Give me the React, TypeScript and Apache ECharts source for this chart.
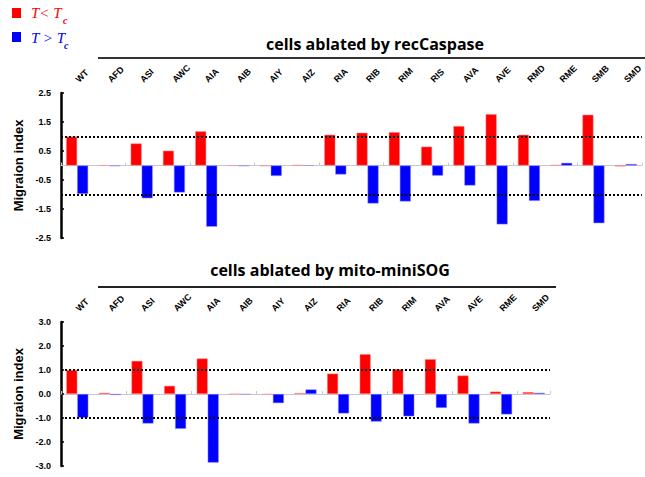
import React, { useEffect, useRef } from "react";
import * as echarts from "echarts";

const topCategories = ["WT", "AFD", "ASI", "AWC", "AIA", "AIB", "AIY", "AIZ", "RIA", "RIB", "RIM", "RIS", "AVA", "AVE", "RMD", "RME", "SMB", "SMD"];
const topBelow = [1.0, 0.0, 0.76, 0.51, 1.18, 0.0, -0.02, 0.02, 1.06, 1.13, 1.15, 0.65, 1.36, 1.77, 1.06, 0.02, 1.75, -0.03];
const topAbove = [-0.98, -0.02, -1.13, -0.93, -2.11, -0.02, -0.36, 0.0, -0.31, -1.31, -1.24, -0.35, -0.69, -2.03, -1.22, 0.09, -1.99, 0.05];

const bottomCategories = ["WT", "AFD", "ASI", "AWC", "AIA", "AIB", "AIY", "AIZ", "RIA", "RIB", "RIM", "AVA", "AVE", "RME", "SMD"];
const bottomBelow = [1.0, 0.05, 1.38, 0.34, 1.48, 0.0, -0.02, 0.04, 0.85, 1.66, 1.03, 1.45, 0.77, 0.1, 0.08];
const bottomAbove = [-0.99, -0.04, -1.23, -1.45, -2.86, -0.02, -0.38, 0.19, -0.81, -1.15, -0.93, -0.58, -1.23, -0.85, 0.05];

const topTitle = "cells ablated by recCaspase";
const bottomTitle = "cells ablated by mito-miniSOG";
const yName = "Migraion index";

const RED = "#ff0000";
const BLUE = "#0000ff";
const SANS = "Liberation Sans, Arial, sans-serif";

export default function App() {
  const ref = useRef<HTMLDivElement>(null);
  useEffect(() => {
    if (!ref.current) return;
    const chart = echarts.init(ref.current, null, { renderer: "svg" });

    const zeroAxis = (gridIndex: number, cats: string[]) => ({
      type: "category",
      gridIndex,
      data: cats,
      position: "bottom",
      axisLine: { onZero: true, lineStyle: { color: "#c8c8c8", width: 1 } },
      axisTick: { show: true, inside: true, length: 3, lineStyle: { color: "#c8c8c8" } },
      axisLabel: { show: false },
      splitLine: { show: false },
    });
    const labelAxis = (gridIndex: number, cats: string[]) => ({
      type: "category",
      gridIndex,
      data: cats,
      position: "top",
      axisLine: { show: false },
      axisTick: { show: false },
      axisLabel: {
        rotate: -45,
        margin: 12,
        interval: 0,
        align: "left",
        verticalAlign: "middle",
        fontSize: 9,
        fontWeight: "bold",
        fontFamily: SANS,
        color: "#000",
      },
    });
    const yAxis = (gridIndex: number, min: number, max: number) => ({
      type: "value",
      gridIndex,
      min,
      max,
      interval: 1,
      name: yName,
      nameLocation: "middle",
      nameGap: 33,
      nameTextStyle: { fontSize: 13, fontWeight: "bold", fontFamily: SANS, color: "#000" },
      axisLine: { show: true, lineStyle: { color: "#000", width: 2.5 } },
      axisTick: { show: true, inside: true, length: 3, lineStyle: { color: "#000", width: 1.5 } },
      splitLine: { show: false },
      axisLabel: {
        formatter: (v: number) => v.toFixed(1),
        fontSize: 9,
        fontWeight: "bold",
        fontFamily: SANS,
        color: "#000",
        margin: 10,
      },
    });
    const markLine = {
      silent: true,
      symbol: "none",
      label: { show: false },
      lineStyle: { type: "dotted", color: "#000", width: 2 },
      data: [{ yAxis: 1 }, { yAxis: -1 }],
    };
    const bar = (name: string, data: number[], color: string, xi: number, yi: number, ml: boolean) => ({
      type: "bar",
      name,
      data,
      xAxisIndex: xi,
      yAxisIndex: yi,
      barWidth: 11,
      barGap: "0%",
      itemStyle: { color, borderColor: color === RED ? "#ff9090" : "#9090ff", borderWidth: 0.5 },
      markLine: ml ? markLine : undefined,
    });

    chart.setOption({
      animation: false,
      grid: [
        { left: 61, top: 93, width: 587, height: 145 },
        { left: 61, top: 322, width: 489, height: 144 },
      ],
      xAxis: [
        zeroAxis(0, topCategories),
        labelAxis(0, topCategories),
        zeroAxis(1, bottomCategories),
        labelAxis(1, bottomCategories),
      ],
      yAxis: [yAxis(0, -2.5, 2.5), yAxis(1, -3, 3)],
      series: [
        bar("T<Tc", topBelow, RED, 0, 0, true),
        bar("T>Tc", topAbove, BLUE, 0, 0, false),
        bar("T<Tc", bottomBelow, RED, 2, 1, true),
        bar("T>Tc", bottomAbove, BLUE, 2, 1, false),
      ],
      graphic: [
        { type: "rect", shape: { x: 12, y: 8, width: 9, height: 10 }, style: { fill: RED } },
        { type: "rect", shape: { x: 12, y: 32, width: 9, height: 10 }, style: { fill: BLUE } },
        { type: "text", x: 31, y: 5, style: { text: "T< T", fill: RED, font: "italic 15px 'Liberation Serif', serif" } },
        { type: "text", x: 63, y: 15, style: { text: "c", fill: RED, font: "italic bold 10px 'Liberation Serif', serif" } },
        { type: "text", x: 31, y: 30, style: { text: "T > T", fill: BLUE, font: "italic 15px 'Liberation Serif', serif" } },
        { type: "text", x: 64, y: 40, style: { text: "c", fill: BLUE, font: "italic bold 10px 'Liberation Serif', serif" } },
        { type: "text", x: 375, y: 44, style: { text: topTitle, fill: "#000", font: "bold 16px 'Open Sans', sans-serif", align: "center", verticalAlign: "middle" } },
        { type: "line", shape: { x1: 98, y1: 58, x2: 645, y2: 58 }, style: { stroke: "#333", lineWidth: 2 } },
        { type: "text", x: 330, y: 270, style: { text: bottomTitle, fill: "#000", font: "bold 16px 'Open Sans', sans-serif", align: "center", verticalAlign: "middle" } },
        { type: "line", shape: { x1: 98, y1: 287, x2: 556, y2: 287 }, style: { stroke: "#222", lineWidth: 2 } },
      ],
    });
    return () => chart.dispose();
  }, []);
  return <div ref={ref} style={{ position: "absolute", left: 0, top: 0, width: 645, height: 477 }} />;
}
